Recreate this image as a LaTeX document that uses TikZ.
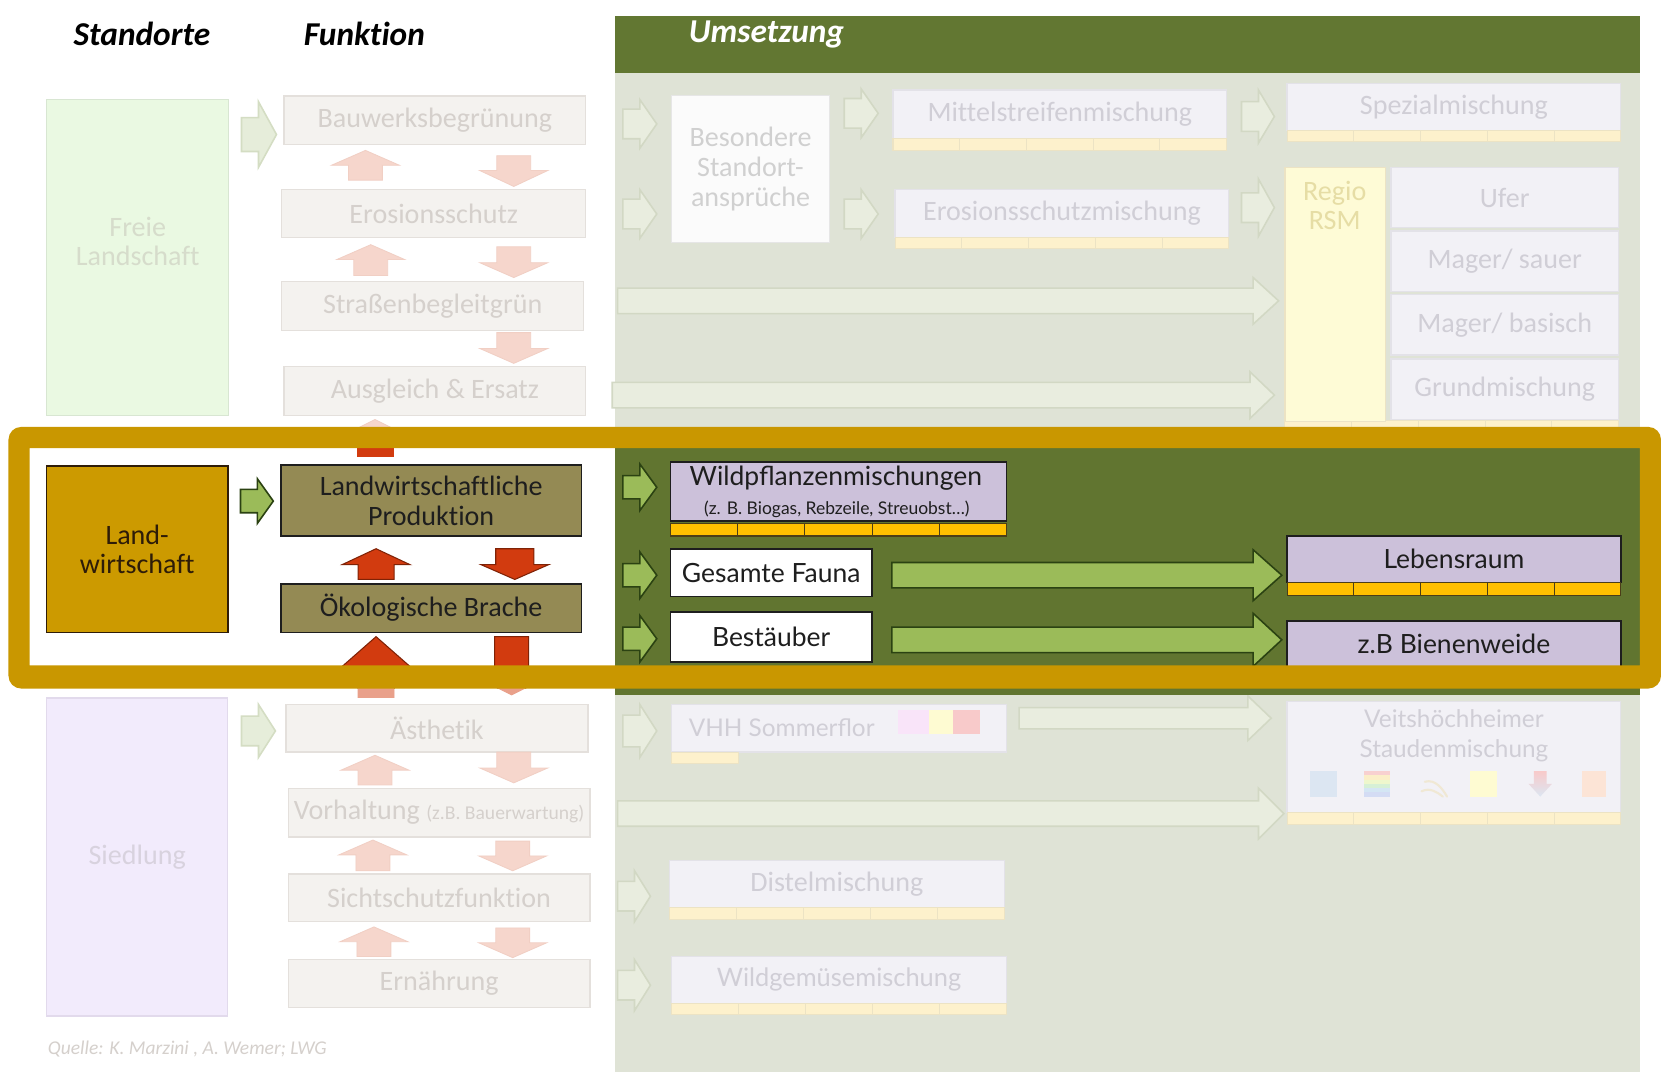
\documentclass[tikz,border=0pt]{standalone}
\usepackage{fontspec}
\setmainfont{Carlito}[Ligatures=NoCommon]
\newfontfamily\latofam{Lato}
\newcommand\fcarl{\fontsize{26.5}{28}\selectfont}
\newcommand\flato{\latofam\fontsize{23}{29}\selectfont}
\newcommand\flatob{\latofam\fontsize{25}{29}\selectfont}
\newcommand\fhead{\bfseries\itshape\fontsize{31.5}{34}\selectfont}
\definecolor{hdrgreen}{HTML}{627732}
\definecolor{bandgreen}{HTML}{617530}
\definecolor{fbg}{HTML}{DFE3D6}
\definecolor{framecol}{HTML}{C99700}
\definecolor{landcol}{HTML}{CC9A00}
\definecolor{olivecol}{HTML}{948A54}
\definecolor{redA}{HTML}{D23B0F}
\definecolor{redD}{HTML}{7F2206}
\definecolor{redM}{HTML}{E9A08A}
\definecolor{grA}{HTML}{9BBB59}
\definecolor{grD}{HTML}{2B4212}
\definecolor{lavcol}{HTML}{CCC1DA}
\definecolor{stripcol}{HTML}{FFC000}
\definecolor{txtcol}{HTML}{1E1E1E}
\definecolor{landtxt}{HTML}{2E1C08}
\definecolor{fbF}{HTML}{F4F2EF}
\definecolor{fbD}{HTML}{E4E0DC}
\definecolor{fbT}{HTML}{D5D0CC}
\definecolor{frF}{HTML}{F6D6CC}
\definecolor{frD}{HTML}{F1CFC4}
\definecolor{fgwF}{HTML}{E6EDDA}
\definecolor{fgwD}{HTML}{D4DDC3}
\definecolor{fgaF}{HTML}{E9EDDF}
\definecolor{fgaD}{HTML}{D2D8C4}
\definecolor{flF}{HTML}{F2F1F6}
\definecolor{flD}{HTML}{E3E2E8}
\definecolor{flT}{HTML}{D0CED6}
\definecolor{fsF}{HTML}{FDF1CC}
\definecolor{fsD}{HTML}{ECE3C4}
\definecolor{fwF}{HTML}{FBFBFB}
\definecolor{fwD}{HTML}{E6E6E6}
\definecolor{fwT}{HTML}{D0D0D0}
\definecolor{fyF}{HTML}{FEFBD6}
\definecolor{fyT}{HTML}{E6DDA5}
\definecolor{freiF}{HTML}{EAF9E2}
\definecolor{freiD}{HTML}{D8E6D2}
\definecolor{freiT}{HTML}{D6DCCB}
\definecolor{siedF}{HTML}{F2EBFC}
\definecolor{siedD}{HTML}{E2DAEC}
\definecolor{siedT}{HTML}{D8D2DE}
\definecolor{icPink}{HTML}{F9E4F9}
\definecolor{icYel}{HTML}{FEFBD2}
\definecolor{icRed}{HTML}{F8CACA}
\definecolor{icBlue}{HTML}{DCE6F2}
\definecolor{icOra}{HTML}{FCE4D6}
\definecolor{icBee}{HTML}{F0E8D4}
\tikzset{
  fbox/.style={draw=fbD, fill=fbF, text=fbT, line width=1.2pt, inner sep=0pt, font=\fcarl, minimum width=285, minimum height=46},
  flav/.style={draw=flD, fill=flF, text=flT, line width=1.2pt, inner sep=0pt, font=\fcarl, minimum width=315, minimum height=45},
  fst/.style={draw=fsD, fill=fsF, line width=1pt},
  fred/.style={fill=frF, draw=frD, line width=.8pt},
  midred/.style={fill=redM, draw=redM, line width=.8pt},
  fgw/.style={fill=fgwF, draw=fgwD, line width=1.5pt},
  fga/.style={fill=fgaF, draw=fgaD, line width=1.5pt},
  redarr/.style={fill=redA, draw=redD, line width=1pt},
  grarr/.style={fill=grA, draw=grD, line width=1.5pt},
  lbox/.style={draw=txtcol, fill=lavcol, text=txtcol, line width=1.6pt, inner sep=0pt, font=\flatob, minimum width=315, minimum height=44},
  wbox/.style={draw=txtcol, fill=white, text=txtcol, line width=1.6pt, inner sep=0pt, font=\flatob, minimum width=190, minimum height=46},
  obox/.style={draw=txtcol, fill=olivecol, text=txtcol, line width=1.6pt, inner sep=0pt, font=\fcarl, align=center, minimum width=284},
  gst/.style={draw=txtcol!80!stripcol, fill=stripcol, line width=1pt},
  hdr/.style={font=\fhead, inner sep=0pt}
}
\newcommand\rarr[7]{\draw[#1] (#2,{#3-#6}) -- (#5,{#3-#6}) -- (#5,{#3-#7}) -- (#4,#3) -- (#5,{#3+#7}) -- (#5,{#3+#6}) -- (#2,{#3+#6}) -- cycle;}
\newcommand\varr[7]{\draw[#1] ({#2-#6},#3) -- ({#2-#6},#5) -- ({#2-#7},#5) -- (#2,#4) -- ({#2+#7},#5) -- ({#2+#6},#5) -- ({#2+#6},#3) -- cycle;}
\newcommand\mstrip[5]{\foreach \i in {0,...,4}{\draw[#1] ({#2+(#3-#2)*\i/5},#4) rectangle ({#2+(#3-#2)*(\i+1)/5},#5);}}
\begin{document}
\begin{tikzpicture}[x=1pt,y=-1pt]
\useasboundingbox (0,0) rectangle (1568,1020);
\fill[white] (0,0) rectangle (1568,1020);
% backgrounds
\fill[fbg] (581,69) rectangle (1548,1012);
\fill[hdrgreen] (581,15) rectangle (1548,69);
\node[hdr, anchor=west, text=white] (humz) at (650,33) {Umsetzung};
\node[hdr, text=black] (hst) at (134,32) {Standorte};
\node[hdr, text=black] (hfu) at (344,32) {Funktion};

% ---------- left faded top
\node[draw=freiD, fill=freiF, line width=1.2pt, minimum width=172, minimum height=298, inner sep=0pt] (frei) at (130,243) {};
\node[text=freiT, font=\fcarl, align=center] (freit) at (130,228) {Freie\\Landschaft};
\rarr{fgw}{228}{127}{261}{244}{16}{31}
\node[fbox] (bau) at (410.5,113.5) {Bauwerksbegrünung};
\node[fbox, minimum width=287, minimum height=45] (ero) at (409.5,201.5) {Erosionsschutz};
\node[fbox] (str) at (408.5,289) {Straßenbegleitgrün};
\node[fbox] (aus) at (410.5,369) {Ausgleich \& Ersatz};
\varr{fred}{345}{170}{142}{156}{16}{32}
\varr{fred}{485}{147}{176}{161}{16}{32}
\varr{fred}{350}{260}{231}{245}{16}{32}
\varr{fred}{485}{233}{262}{248}{16}{32}
\varr{fred}{485}{314}{343}{329}{16}{32}
\varr{fred}{354}{431}{396}{412}{17}{32}

% ---------- right faded top
\rarr{fga}{588}{117}{620}{604}{14}{23}
\rarr{fga}{588}{202}{620}{604}{14}{23}
\node[draw=fwD, fill=fwF, text=fwT, line width=1.2pt, minimum width=149, minimum height=139, font=\fcarl, align=center, inner sep=0pt] (bes) at (708.5,159.5) {Besondere\\Standort-\\ansprüche};
\rarr{fga}{797}{107}{829}{813}{14}{23}
\rarr{fga}{797}{202}{829}{813}{14}{23}
\node[flav, minimum height=46] (mit) at (1000.5,108) {Mittelstreifenmischung};
\mstrip{fst}{843}{1158}{131}{142}
\node[flav] (erm) at (1002.5,201.5) {Erosionsschutzmischung};
\mstrip{fst}{845}{1160}{224}{235}
\rarr{fga}{1172}{110}{1203}{1188}{14}{25}
\rarr{fga}{1172}{196}{1203}{1188}{14}{27}
\node[flav, minimum height=44] (spe) at (1372.5,101) {Spezialmischung};
\mstrip{fst}{1215}{1530}{123}{134}
\rarr{fga}{583}{284}{1207}{1183}{12}{22}
\rarr{fga}{578}{373}{1203}{1180}{12}{22}
\mstrip{fst}{1213}{1528}{397}{406}
\node[draw=fsD, fill=fyF, line width=1.2pt, minimum width=95, minimum height=240, inner sep=0pt] (reg) at (1260.5,278) {};
\node[text=fyT, font=\fcarl, align=center] (regt) at (1260,194) {Regio\\RSM};
\node[flav, minimum width=215, minimum height=57] (ufe) at (1420.5,186.5) {Ufer};
\node[flav, minimum width=215, minimum height=57] (msa) at (1420.5,246.5) {Mager/ sauer};
\node[flav, minimum width=215, minimum height=57] (mba) at (1420.5,306.5) {Mager/ basisch};
\node[flav, minimum width=215, minimum height=57] (gru) at (1420.5,367.5) {Grundmischung};

% ---------- left faded bottom
\node[draw=siedD, fill=siedF, text=siedT, line width=1.2pt, minimum width=171, minimum height=300, font=\fcarl, inner sep=0pt] (sie) at (129.5,809) {Siedlung};
\rarr{fgw}{228}{690}{260}{244}{14}{25}
\node[fbox, minimum height=45] (aes) at (412.5,687.5) {Ästhetik};
\varr{fred}{354}{741}{713}{727}{16}{32}
\varr{fred}{485}{710}{739}{725}{16}{32}
\node[fbox] (vor) at (414.5,767) {Vorhaltung {\fontsize{18.5}{20}\selectfont (z.B. Bauerwartung)}};
\varr{fred}{352}{822}{793}{807}{16}{32}
\varr{fred}{484}{794}{822}{808}{16}{32}
\node[fbox, minimum height=45] (sic) at (414.5,847.5) {Sichtschutzfunktion};
\varr{fred}{353}{903}{875}{889}{16}{32}
\varr{fred}{484}{876}{904}{890}{16}{32}
\node[fbox, minimum height=45] (ern) at (414.5,928.5) {Ernährung};
\node[anchor=west, text=fbT, font=\itshape\fontsize{18.4}{20}\selectfont, inner sep=0pt] (que) at (45,990) {Quelle: K. Marzini , A. Wemer; LWG};

% ---------- right faded bottom
\rarr{fga}{588}{690}{620}{604}{15}{25}
\node[flav, minimum width=316] (vhh) at (792,687.5) {};
\node[anchor=west, text=flT, font=\flato, inner sep=0pt] (vhht) at (650,687) {VHH Sommerflor};
\fill[icPink] (848,670) rectangle (877,693);
\fill[icYel] (877,670) rectangle (900,693);
\fill[icRed] (900,670) rectangle (925,693);
\draw[fst] (634,710) rectangle (697,721);
\rarr{fga}{962}{678}{1200}{1178}{10}{21}
\node[flav, minimum height=105] (vei) at (1372.5,714.5) {};
\node[text=flT, font=\flato, align=center] (veit) at (1372.5,694.5) {Veitshöchheimer\\Staudenmischung};
\fill[icBlue] (1237,728) rectangle (1262,752);
\fill[color={rgb,255:red,248;green,208;blue,208}] (1288,728) rectangle (1312,732);
\fill[color={rgb,255:red,251;green,238;blue,200}] (1288,732) rectangle (1312,736);
\fill[color={rgb,255:red,238;green,247;blue,205}] (1288,736) rectangle (1312,740);
\fill[color={rgb,255:red,214;green,240;blue,214}] (1288,740) rectangle (1312,744);
\fill[color={rgb,255:red,212;green,230;blue,244}] (1288,744) rectangle (1312,748);
\fill[color={rgb,255:red,212;green,220;blue,244}] (1288,748) rectangle (1312,752);
\draw[icBee, line width=2pt, line cap=round] (1345,738) .. controls (1355,735) and (1362,745) .. (1366,752) (1342,747) .. controls (1350,743) and (1357,748) .. (1362,752);
\fill[icYel] (1388,728) rectangle (1413,752);
\shade[top color=icRed, bottom color=icBlue] (1448,728) -- (1460,728) -- (1460,740) -- (1465,740) -- (1454,752) -- (1443,740) -- (1448,740) -- cycle;
\fill[icOra] (1493,728) rectangle (1516,752);
\mstrip{fst}{1215}{1530}{767}{778}
\rarr{fga}{583}{768}{1212}{1188}{12}{24}
\rarr{fga}{583}{846}{614}{599}{14}{24}
\node[flav, minimum width=316] (dis) at (790,834.5) {Distelmischung};
\mstrip{fst}{632}{948}{857}{868}
\rarr{fga}{583}{930}{614}{599}{14}{24}
\node[flav, minimum width=316, minimum height=44, font=\latofam\fontsize{24}{28}\selectfont] (wgm) at (792,925) {Wildgemüsemischung};
\mstrip{fst}{634}{950}{947}{958}

% ---------- highlighted band
\fill[white] (28,423) rectangle (581,629);
\fill[bandgreen] (581,420) rectangle (1548,656);
\fill[redA] (337,423) rectangle (372,431);
\node[draw=landtxt, fill=landcol, text=landtxt, line width=1.6pt, minimum width=171, minimum height=157, font=\fcarl, align=center, inner sep=0pt] (lan) at (129.5,518.5) {Land-\\wirtschaft};
\rarr{grarr}{227}{473}{258}{243}{11}{21}
\node[obox, minimum height=67] (lpr) at (407,472.5) {Landwirtschaftliche\\Produktion};
\varr{redarr}{355}{547}{518}{533}{17}{32}
\varr{redarr}{486}{518}{547}{533}{18}{32}
\node[obox, minimum height=46] (oeb) at (407,574) {Ökologische Brache};
\begin{scope}
\clip (0,598) rectangle (1568,650);
\varr{redarr}{355}{660}{601}{630}{17}{33}
\varr{redarr}{483}{601}{656}{640}{16}{32}
\end{scope}
\begin{scope}
\clip (0,650) rectangle (1568,658);
\varr{midred}{355}{660}{601}{630}{17}{33}
\varr{midred}{483}{601}{656}{640}{16}{32}
\end{scope}
\rarr{grarr}{588}{460}{620}{604}{11}{22}
\rarr{grarr}{588}{543}{620}{604}{11}{22}
\rarr{grarr}{588}{603}{620}{604}{11}{22}
\node[lbox, minimum width=317, minimum height=56] (wil) at (791.5,464) {};
\node[text=txtcol, font=\flatob, inner sep=0pt] (wilt) at (789,451) {Wildpflanzenmischungen};
\node[text=txtcol, font=\latofam\fontsize{16.5}{18}\selectfont, inner sep=0pt] (wils) at (790,481) {(z. B. Biogas, Rebzeile, Streuobst…)};
\mstrip{gst}{633}{950}{494}{506}
\node[wbox, minimum height=45] (fau) at (728,540.5) {Gesamte Fauna};
\node[wbox, minimum height=47] (bes2) at (728,601.5) {Bestäuber};
\rarr{grarr}{842}{543}{1210}{1183}{12}{24}
\rarr{grarr}{842}{604}{1210}{1183}{12}{25}
\node[lbox] (leb) at (1372.5,528) {Lebensraum};
\mstrip{gst}{1215}{1530}{550}{562}
\node[lbox] (bie) at (1372.5,608) {z.B Bienenweide};
% frame
\fill[framecol, even odd rule, rounded corners=12pt] (8,403) rectangle (1568,650) [sharp corners] (28,423) rectangle (1548,628);
\end{tikzpicture}
\end{document}
